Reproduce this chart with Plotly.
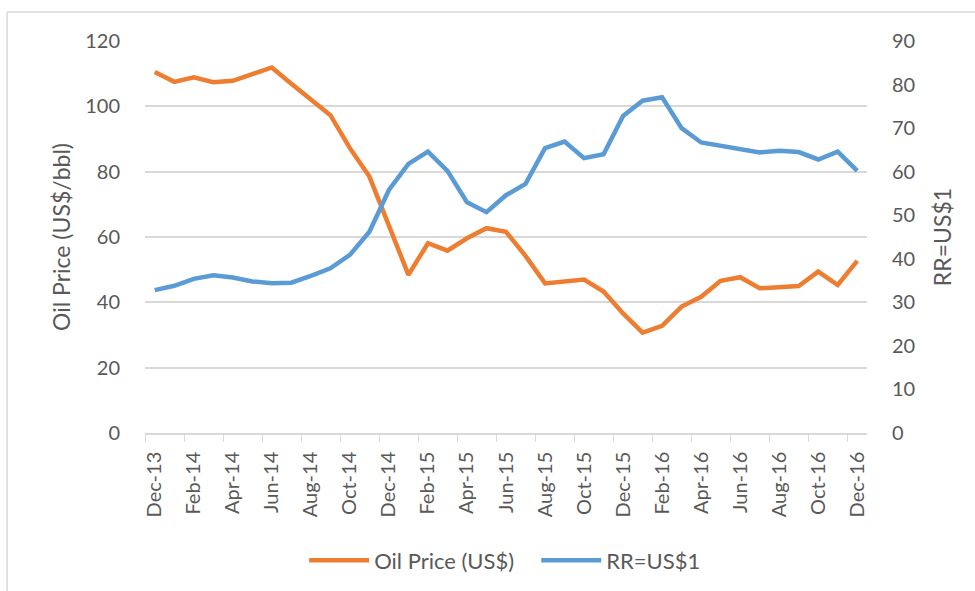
import plotly.graph_objects as go

months = ["Dec-13", "Jan-14", "Feb-14", "Mar-14", "Apr-14", "May-14", "Jun-14", "Jul-14",
          "Aug-14", "Sep-14", "Oct-14", "Nov-14", "Dec-14", "Jan-15", "Feb-15", "Mar-15",
          "Apr-15", "May-15", "Jun-15", "Jul-15", "Aug-15", "Sep-15", "Oct-15", "Nov-15",
          "Dec-15", "Jan-16", "Feb-16", "Mar-16", "Apr-16", "May-16", "Jun-16", "Jul-16",
          "Aug-16", "Sep-16", "Oct-16", "Nov-16", "Dec-16"]

oil_price = [110.5, 107.5, 108.9, 107.4, 107.8, 109.8, 111.9, 106.9,
             101.9, 97.3, 87.2, 78.5, 63.5, 48.4, 58.1, 55.8,
             59.6, 62.7, 61.6, 54.2, 45.8, 46.3, 47.0, 43.3,
             36.6, 30.7, 32.8, 38.7, 41.7, 46.6, 47.7, 44.3,
             44.8, 45.0, 49.4, 45.3, 52.7]

rub_usd = [32.8, 33.8, 35.4, 36.2, 35.7, 34.8, 34.4, 34.5,
           36.1, 37.8, 40.9, 46.2, 55.8, 61.8, 64.6, 60.2,
           53.0, 50.7, 54.6, 57.2, 65.4, 66.9, 63.1, 64.0,
           72.8, 76.3, 77.1, 70.0, 66.7, 66.0, 65.2, 64.4,
           64.8, 64.5, 62.8, 64.6, 60.2]

left_ticks = [0, 20, 40, 60, 80, 100, 120]
right_ticks = [0, 10, 20, 30, 40, 50, 60, 70, 80, 90]

ORANGE = "#ED7D31"
BLUE = "#5B9BD5"
GRID = "#D9D9D9"
TXT = "#595959"
FONT = "Lato, 'Open Sans', sans-serif"

fig = go.Figure()
fig.add_trace(go.Scatter(x=months, y=oil_price, name="Oil Price (US$)", mode="lines",
                         line=dict(color=ORANGE, width=4.5), legend="legend"))
fig.add_trace(go.Scatter(x=months, y=rub_usd, name="RR=US$1", mode="lines",
                         line=dict(color=BLUE, width=4.5), yaxis="y2", legend="legend2"))

legend_common = dict(orientation="h", yanchor="middle", y=-0.325, xanchor="left",
                     font=dict(size=22, color=TXT), itemwidth=60, bgcolor="rgba(0,0,0,0)")

fig.update_layout(
    width=975, height=591,
    margin=dict(l=145, r=108, t=41, b=158, autoexpand=False),
    paper_bgcolor="white", plot_bgcolor="white",
    font=dict(family=FONT, color=TXT, size=20),
    showlegend=True,
    legend=dict(x=0.2204, **legend_common),
    legend2=dict(x=0.5419, **legend_common),
    xaxis=dict(type="category", tickmode="linear", dtick=2, tick0=0,
               tickson="boundaries", ticks="outside", ticklen=7, tickcolor=GRID,
               showline=True, linecolor=GRID, linewidth=1.5,
               showgrid=False, tickangle=-90, tickfont=dict(size=20, color=TXT),
               ticklabelstandoff=9, range=[-0.5, 36.5]),
    yaxis=dict(range=[0, 120], tickvals=left_ticks, showgrid=True, gridcolor=GRID, gridwidth=1.5,
               zeroline=False, showline=False, ticks="", ticklabelstandoff=24,
               tickfont=dict(size=20, color=TXT),
               title=dict(text="Oil Price (US$/bbl)", font=dict(size=23, color=TXT), standoff=8)),
    yaxis2=dict(range=[0, 90], tickvals=right_ticks, overlaying="y", side="right",
                showgrid=False, zeroline=False, showline=False, ticks="", ticklabelstandoff=24,
                tickfont=dict(size=20, color=TXT),
                title=dict(text="RR=US$1", font=dict(size=23, color=TXT), standoff=20)),
    shapes=[
        dict(type="line", xref="paper", yref="paper", x0=-0.191, x1=1.2, y0=1.074, y1=1.074,
             line=dict(color=GRID, width=1.5)),
        dict(type="line", xref="paper", yref="paper", x0=-0.191, x1=-0.191, y0=1.074, y1=-0.45,
             line=dict(color=GRID, width=1.5)),
    ],
)

fig.write_html("out.html", config={"displayModeBar": False},
               post_script="document.body.style.margin='0px';")
